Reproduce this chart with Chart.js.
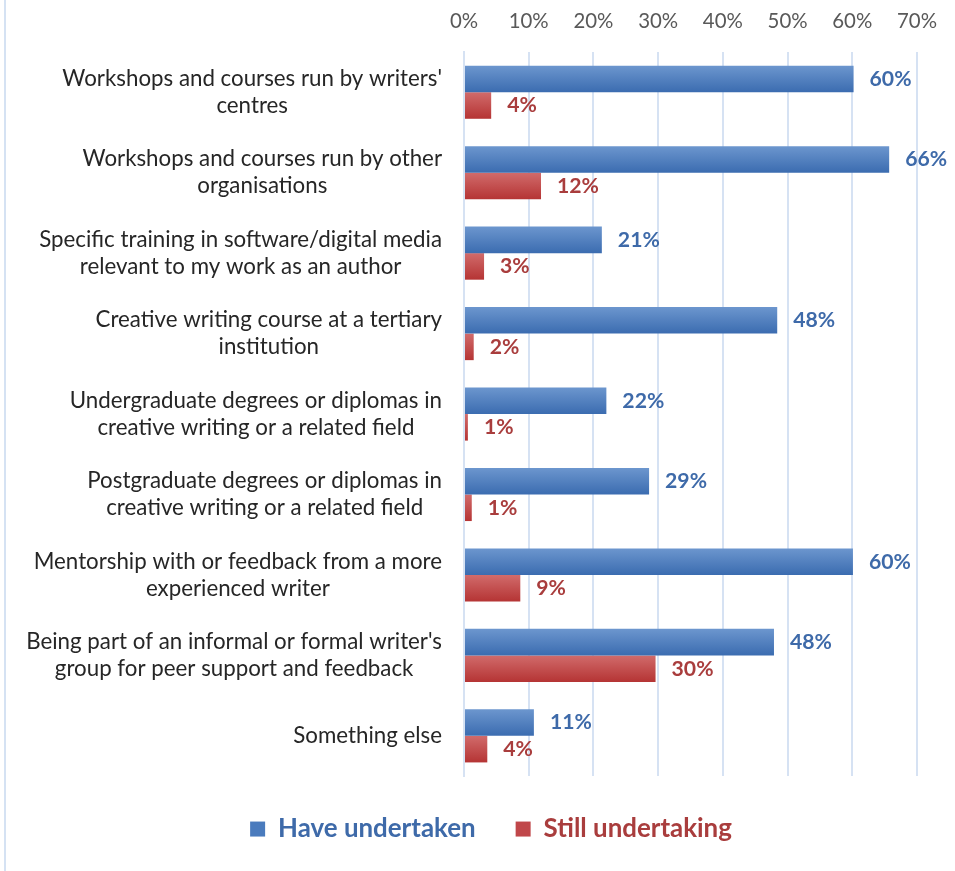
<!DOCTYPE html>
<html><head><meta charset="utf-8">
<script src="https://cdn.jsdelivr.net/npm/chart.js@4.4.1/dist/chart.umd.min.js"></script>
<style>
html,body{margin:0;padding:0;background:#fff;}
#wrap{position:relative;width:955px;height:871px;overflow:hidden;}
#edge{position:absolute;left:4px;top:0;width:2px;height:871px;background:#d5e2f3;}
canvas{position:absolute;left:0;top:0;}
</style></head><body>
<div id="wrap"><div id="edge"></div><canvas id="c" width="955" height="871"></canvas></div>
<script>
const categories = [
  ["Workshops and courses run by writers'", "centres"],
  ["Workshops and courses run by other", "organisations"],
  ["Specific training in software/digital media", "relevant to my work as an author"],
  ["Creative writing course at a tertiary", "institution"],
  ["Undergraduate degrees or diplomas in", "creative writing or a related field"],
  ["Postgraduate degrees or diplomas in", "creative writing or a related field"],
  ["Mentorship with or feedback from a more", "experienced writer"],
  ["Being part of an informal or formal writer's", "group for peer support and feedback"],
  ["Something else"]
];
const seriesNames = ["Have undertaken", "Still undertaking"];
const haveUndertaken = [60.2, 65.7, 21.3, 48.4, 22.0, 28.6, 60.1, 47.9, 10.8];
const stillUndertaking = [4.2, 11.9, 3.1, 1.5, 0.6, 1.2, 8.7, 29.6, 3.6];
const xTickValues = [0, 10, 20, 30, 40, 50, 60, 70];

const FONT = "Lato, 'Liberation Sans', sans-serif";
const catFontSize = 22.3, tickFontSize = 20.4, valueFontSize = 21.2, legendFontSize = 25.9;
const blueTop = '#6c96ce', blueBot = '#3b6cb0', redTop = '#d16b6b', redBot = '#b53434';
const blueText = '#3e6aa9', redText = '#a93d3d';
const catPct = 0.66;

function barGradient(context, top, bot, isFirst){
  const chart = context.chart;
  const y = chart.scales.y;
  if (!y || context.dataIndex === undefined) return isFirst ? blueBot : redBot;
  const yc = y.getPixelForValue(context.dataIndex);
  const band = Math.abs(y.getPixelForValue(1) - y.getPixelForValue(0));
  const h = band * catPct / 2;
  const y0 = isFirst ? yc - h : yc, y1 = isFirst ? yc : yc + h;
  const g = chart.ctx.createLinearGradient(0, y0, 0, y1);
  g.addColorStop(0, top); g.addColorStop(1, bot);
  return g;
}

const catLabelPlugin = {
  id: 'catLabels',
  afterDraw(chart) {
    const ctx = chart.ctx, ys = chart.scales.y;
    ctx.save();
    ctx.font = catFontSize + 'px ' + FONT;
    ctx.fillStyle = '#262626';
    ctx.textBaseline = 'middle';
    ctx.textAlign = 'center';
    const lineH = 27;
    categories.forEach((lines, i) => {
      const yc = ys.getPixelForValue(i);
      const w = Math.max(...lines.map(l => ctx.measureText(l).width));
      const cx = chart.chartArea.left - 22 - w / 2;
      lines.forEach((l, j) => ctx.fillText(l, cx, yc + (j - (lines.length - 1) / 2) * lineH));
    });
    ctx.restore();
  }
};

const valueLabelPlugin = {
  id: 'valueLabels',
  afterDatasetsDraw(chart) {
    const ctx = chart.ctx;
    ctx.save();
    ctx.font = 'bold ' + valueFontSize + 'px ' + FONT;
    ctx.textBaseline = 'middle';
    ctx.textAlign = 'left';
    chart.data.datasets.forEach((ds, di) => {
      ctx.fillStyle = di === 0 ? blueText : redText;
      chart.getDatasetMeta(di).data.forEach((el, i) => {
        ctx.fillText(Math.round(ds.data[i]) + '%', el.x + 16, el.y);
      });
    });
    ctx.restore();
  }
};

new Chart(document.getElementById('c'), {
  type: 'bar',
  data: {
    labels: categories,
    datasets: [
      { label: seriesNames[0], data: haveUndertaken,
        backgroundColor: ctx => barGradient(ctx, blueTop, blueBot, true) },
      { label: seriesNames[1], data: stillUndertaking,
        backgroundColor: ctx => barGradient(ctx, redTop, redBot, false) }
    ]
  },
  options: {
    indexAxis: 'y',
    responsive: false,
    animation: false,
    devicePixelRatio: 1,
    datasets: { bar: { categoryPercentage: catPct, barPercentage: 1 } },
    layout: { padding: { left: 65, right: 38, top: 0, bottom: 19 } },
    scales: {
      x: {
        position: 'top', min: 0, max: 70,
        afterBuildTicks: s => { s.ticks = xTickValues.map(v => ({ value: v })); },
        afterFit: s => { s.height = 52; },
        ticks: { callback: v => v + '%', color: '#595959', padding: 18,
                 font: { family: FONT, size: tickFontSize } },
        grid: { color: '#d6e2f3', lineWidth: 2, drawTicks: false },
        border: { display: false }
      },
      y: {
        afterFit: s => { s.width = 399; },
        ticks: { display: false },
        grid: { display: false },
        border: { display: true, color: '#d6e2f3', width: 2 }
      }
    },
    plugins: {
      tooltip: { enabled: false },
      legend: {
        position: 'bottom',
        labels: {
          boxWidth: 15, boxHeight: 15, padding: 40,
          font: { family: FONT, size: legendFontSize, weight: 'bold' },
          generateLabels: chart => chart.data.datasets.map((ds, i) => ({
            text: ds.label, fillStyle: i === 0 ? '#4a7bbd' : '#c0474a',
            strokeStyle: 'rgba(0,0,0,0)', lineWidth: 0, fontColor: i === 0 ? blueText : redText,
            datasetIndex: i, hidden: false
          }))
        }
      }
    }
  },
  plugins: [catLabelPlugin, valueLabelPlugin]
});
</script>
</body></html>
